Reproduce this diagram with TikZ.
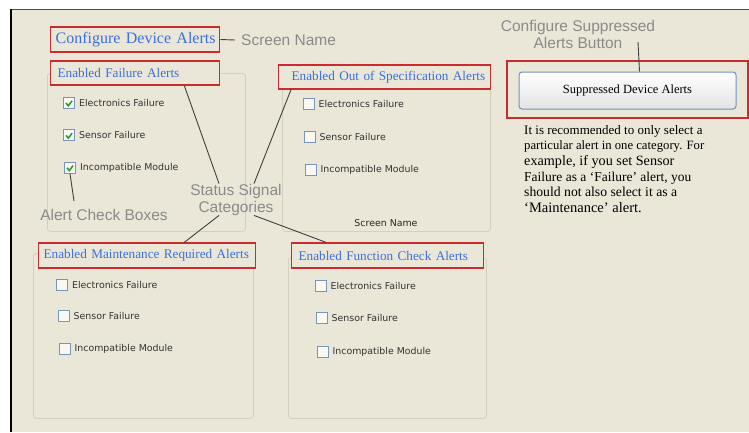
\documentclass[tikz,border=0pt]{standalone}
\usepackage{fontspec}
\setmainfont{Liberation Serif}
\newfontfamily\notefont{Liberation Sans}
\newfontfamily\uifont{DejaVu Sans}
\usepackage{tikz}
\usetikzlibrary{positioning}

\definecolor{panelbg}{HTML}{EAE6D8}
\definecolor{boxred}{HTML}{CC2B2E}
\definecolor{titleblue}{HTML}{3D6FDB}
\definecolor{notegray}{HTML}{8A8A8A}
\definecolor{groupline}{HTML}{D4D0C0}
\definecolor{ckblue}{HTML}{7896B8}
\definecolor{ckgreen}{HTML}{2E9A3C}
\definecolor{btnblue}{HTML}{6F93C2}

\begin{document}
\begin{tikzpicture}[
      x=1pt, y=-1pt,
      redbox/.style  = {draw=boxred, line width=1.3pt, fill=panelbg, text=titleblue,
                        font=\fontsize{13.2}{15}\selectfont, anchor=west,
                        inner ysep=0pt, minimum height=24pt, align=left},
      group/.style   = {draw=groupline, line width=0.8pt, rounded corners=3pt,
                        anchor=north west, inner sep=0pt},
      ckbox/.style   = {draw=ckblue, line width=0.9pt, fill=white!70!panelbg,
                        minimum size=11pt, inner sep=0pt},
      checked/.style = {path picture={
                          \draw[ckgreen, line width=1.6pt]
                            ([shift={(2.5pt,-5.5pt)}]path picture bounding box.north west)
                            -- ++(2.3pt,-2.8pt) -- ++(3.8pt,5pt);}},
      cklabel/.style = {font=\uifont\fontsize{9.4}{11}\selectfont, text=black!80,
                        inner sep=0pt},
      note/.style    = {font=\notefont\fontsize{15.5}{17}\selectfont, text=notegray,
                        inner sep=0pt, align=center},
      leader/.style  = {draw=black!75, line width=0.9pt},
      button/.style  = {draw=btnblue, line width=1pt, rounded corners=3pt,
                        top color=white, bottom color=black!11,
                        minimum width=217pt, minimum height=37pt,
                        font=\fontsize{12.5}{14}\selectfont}
  ]
  \useasboundingbox (0,0) rectangle (749,432);

  % --- Screen panel ---
  \fill[panelbg] (10,9) rectangle (749,432);
  \draw[black!70, line width=1.5pt] (10,9.5) -- (749,9.5);
  \draw[black, line width=2pt] (11,9) -- (11,432);

  % --- Group boxes ---
  \node[group, minimum width=198pt, minimum height=158pt] (failgrp)  at (47,73)  {};
  \node[group, minimum width=208pt, minimum height=153pt] (oosgrp)   at (282,78) {};
  \node[group, minimum width=220pt, minimum height=165pt] (maintgrp) at (33,253) {};
  \node[group, minimum width=198pt, minimum height=161pt] (funcgrp)  at (288,257) {};

  % --- Headings ---
  \node[redbox, font=\fontsize{16}{18}\selectfont, minimum height=25pt,
        inner xsep=5pt, text width=159pt] (title) at (50,39.5) {\mbox{Configure Device Alerts}};
  \node[redbox, inner xsep=7pt, text width=155pt]  (failhead)  at (50,73)  {\mbox{Enabled Failure Alerts}};
  \node[redbox, inner xsep=13pt, text width=186pt] (ooshead)   at (278,77) {\mbox{Enabled Out of Specification Alerts}};
  \node[redbox, minimum height=25pt, inner xsep=5pt, text width=207pt]
        (mainthead) at (38,255.5) {\mbox{Enabled Maintenance Required Alerts}};
  \node[redbox, minimum height=25pt, inner xsep=7pt, text width=178pt]
        (funchead)  at (291,255.5) {\mbox{Enabled Function Check Alerts}};

  % --- Failure alerts (checked) ---
  \node[ckbox, checked] (f1) at (69,103) {};
  \node[ckbox, checked, below=20.5pt of f1] (f2) {};
  \node[ckbox, checked, below=20.5pt of f2, xshift=1pt] (f3) {};
  \node[cklabel, right=4pt of f1] {Electronics Failure};
  \node[cklabel, right=4pt of f2] {Sensor Failure};
  \node[cklabel, right=4pt of f3] {Incompatible Module};

  % --- Out of specification alerts ---
  \node[ckbox] (o1) at (308.5,103.5) {};
  \node[ckbox, below=21.5pt of o1, xshift=1pt] (o2) {};
  \node[ckbox, below=21.5pt of o2, xshift=1pt] (o3) {};
  \node[cklabel, right=4pt of o1] {Electronics Failure};
  \node[cklabel, right=4pt of o2] {Sensor Failure};
  \node[cklabel, right=4pt of o3] {Incompatible Module};
  \node[font=\uifont\fontsize{9.4}{11}\selectfont, text=black!85] (oosname) at (386,223) {Screen Name};

  % --- Maintenance required alerts ---
  \node[ckbox] (m1) at (62,284.5) {};
  \node[ckbox, below=20pt of m1, xshift=1.5pt] (m2) {};
  \node[ckbox, below=21pt of m2, xshift=1pt] (m3) {};
  \node[cklabel, right=4pt of m1] {Electronics Failure};
  \node[cklabel, right=4pt of m2] {Sensor Failure};
  \node[cklabel, right=4pt of m3] {Incompatible Module};

  % --- Function check alerts ---
  \node[ckbox] (c1) at (320.5,285.5) {};
  \node[ckbox, below=21pt of c1, xshift=1pt] (c2) {};
  \node[ckbox, below=21.5pt of c2, xshift=1pt] (c3) {};
  \node[cklabel, right=4pt of c1] {Electronics Failure};
  \node[cklabel, right=4pt of c2] {Sensor Failure};
  \node[cklabel, right=4pt of c3] {Incompatible Module};

  % --- Suppressed alerts button and advice ---
  \node[draw=boxred, line width=1.3pt, minimum width=241pt, minimum height=57pt] (supframe) at (627.5,89.5) {};
  \node[button] (supbtn) at (627.5,90.5) {Suppressed Device Alerts};
  \node[anchor=north west, inner sep=0pt, align=left,
        font=\fontsize{13.5}{15.6}\selectfont] (advice) at (524,125)
        {{\fontsize{13}{15.6}\selectfont It is recommended to only select a}\\
         {\fontsize{12.7}{15.6}\selectfont particular alert in one category. For}\\
         {\fontsize{14.2}{15.6}\selectfont example, if you set Sensor}\\
         {\fontsize{13.5}{15.6}\selectfont Failure as a ‘Failure’ alert, you}\\
         {\fontsize{13.7}{15.6}\selectfont should not also select it as a}\\
         {\fontsize{14.5}{15.6}\selectfont ‘Maintenance’ alert.}};

  % --- Callout labels ---
  \node[note, anchor=west] (scrname) at (241,40) {Screen Name};
  \node[note] (ackname) at (104,215) {Alert Check Boxes};
  \node[note] (status) at (236,199.5) {Status Signal\\Categories};
  \node[note] (suplabel) at (578,34.5) {Configure Suppressed\\Alerts Button};
  \coordinate (ackend) at (74,201);
  \coordinate (suptip) at (638,42);

  % --- Leaders ---
  \draw[leader] (title.east) -- ([xshift=-6pt]scrname.west);
  \draw[leader] (f3.south) -- (ackend);
  \draw[leader] ([xshift=-36pt]failhead.south east) -- ([xshift=-17pt]status.north);
  \draw[leader] ([xshift=13pt]ooshead.south west) -- ([xshift=18pt]status.north);
  \draw[leader] ([xshift=-17pt]status.south) -- ([xshift=-72pt]mainthead.north east);
  \draw[leader] ([xshift=18pt]status.south) -- ([xshift=35pt]funchead.north west);
  \draw[leader] (suptip) -- ([xshift=12pt]supbtn.north);

\end{tikzpicture}
\end{document}
